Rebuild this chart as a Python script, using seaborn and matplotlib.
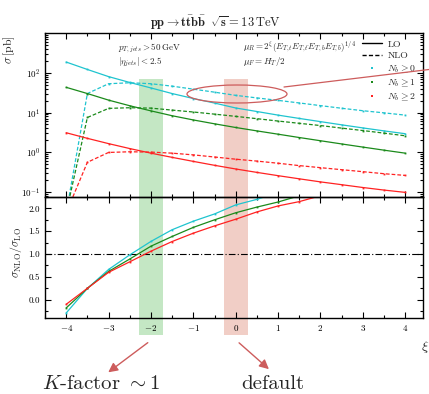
import numpy as np
import pandas as pd
import matplotlib
matplotlib.use("Agg")
import matplotlib.pyplot as plt
import matplotlib.ticker as mticker
import seaborn as sns
from matplotlib.patches import Ellipse, Rectangle, FancyArrowPatch
from matplotlib.lines import Line2D

# scale variation parameter xi (mu_R = 2^xi * mu_0)
xi = [-4.0, -3.5, -3.0, -2.5, -2.0, -1.5, -1.0, -0.5, 0.0,
      0.5, 1.0, 1.5, 2.0, 2.5, 3.0, 3.5, 4.0]

# cross sections in pb
lo_nb0 = [186, 121, 80, 57, 41.5, 30, 22.5, 17.3, 13.0, 10.6, 8.6, 7.1, 5.9, 4.9, 4.1, 3.45, 2.93]
nlo_nb0 = [-54, 30, 53, 56, 53, 46, 38.7, 32.5, 27.0, 23.3, 20.2, 17.4, 14.9, 12.8, 11.1, 9.8, 8.6]
lo_nb1 = [43, 30, 20.5, 14.8, 11.0, 8.3, 6.5, 5.2, 4.2, 3.45, 2.85, 2.35, 1.95, 1.62, 1.35, 1.13, 0.95]
nlo_nb1 = [-7.7, 7.5, 12.7, 13.2, 12.9, 11.5, 10.3, 9.1, 8.0, 7.0, 6.1, 5.35, 4.7, 4.05, 3.52, 3.03, 2.6]
lo_nb2 = [3.1, 2.24, 1.65, 1.24, 0.95, 0.745, 0.59, 0.47, 0.38, 0.312, 0.258, 0.215, 0.18, 0.153, 0.13, 0.112, 0.098]
nlo_nb2 = [-0.31, 0.56, 0.99, 1.03, 1.01, 0.95, 0.86, 0.76, 0.67, 0.6, 0.53, 0.462, 0.41, 0.365, 0.325, 0.289, 0.262]

sample_labels = [r"$N_b \geq 0$", r"$N_b \geq 1$", r"$N_b \geq 2$"]
sample_colors = ["#1fc4cf", "#1b8a1b", "#ff2222"]
band_centers = [-2.0, 0.0]

sns.set_theme(style="ticks")
plt.rcParams.update({
    "font.family": "serif",
    "font.serif": ["cmr10", "DejaVu Serif"],
    "mathtext.fontset": "cm",
    "axes.formatter.use_mathtext": True,
    "axes.linewidth": 1.0,
    "axes.edgecolor": "black",
    "axes.facecolor": "none",
})

# long-form tables
rows, ratio_rows = [], []
for lab, lo, nlo in zip(sample_labels, [lo_nb0, lo_nb1, lo_nb2], [nlo_nb0, nlo_nb1, nlo_nb2]):
    lo = np.asarray(lo, float)
    nlo = np.asarray(nlo, float)
    # negative NLO values cannot be shown on a log axis: send them below the frame
    nlo_log = np.where(nlo > 0, nlo, 0.03)
    for x, a, b in zip(xi, lo, nlo_log):
        rows.append({"xi": x, "sigma": a, "sample": lab, "order": "LO"})
        rows.append({"xi": x, "sigma": b, "sample": lab, "order": "NLO"})
    for x, r in zip(xi, nlo / lo):
        ratio_rows.append({"xi": x, "ratio": r, "sample": lab})
df = pd.DataFrame(rows)
df_ratio = pd.DataFrame(ratio_rows)
palette = dict(zip(sample_labels, sample_colors))

W, H = 429, 394
fig = plt.figure(figsize=(W / 100, H / 100), dpi=100)
ax1 = fig.add_axes([45 / W, 1 - 197 / H, 378 / W, 164 / H])
ax2 = fig.add_axes([45 / W, 1 - 318 / H, 378 / W, 121 / H], sharex=ax1)

# highlighted scale choices (span both panels and the tick labels)
xscale = 378 / 8.92
def xpix(v):
    return 45 + (v + 4.5) * xscale
for c, col in zip(band_centers, ["#c4e7c4", "#f1cec6"]):
    x0 = xpix(c - 0.28)
    fig.add_artist(Rectangle((x0 / W, 1 - 335 / H), (0.56 * xscale) / W, (335 - 79) / H,
                             transform=fig.transFigure, facecolor=col,
                             edgecolor="none", zorder=-1))

MS = 1.3
sns.lineplot(data=df, x="xi", y="sigma", hue="sample", style="order",
             palette=palette, dashes={"LO": "", "NLO": (3.0, 1.6)},
             markers={"LO": "s", "NLO": "s"}, markersize=MS, markeredgewidth=0,
             linewidth=0.9, estimator=None, sort=False, legend=False, ax=ax1)
ax1.set_yscale("log")
ax1.set_ylim(0.075, 1000)
ax1.yaxis.set_major_locator(mticker.FixedLocator([0.1, 1, 10, 100]))
ax1.yaxis.set_minor_locator(mticker.LogLocator(base=10, subs=np.arange(2, 10) * 1.0))
ax1.yaxis.set_minor_formatter(mticker.NullFormatter())
ax1.set_xlabel("")
ax1.set_ylabel(r"$\sigma\,[\mathrm{pb}]$", fontsize=8.5)
ax1.yaxis.set_label_coords(-0.074, 0.9)

sns.lineplot(data=df_ratio, x="xi", y="ratio", hue="sample", palette=palette,
             marker="s", markersize=MS, markeredgewidth=0, linewidth=0.9,
             estimator=None, sort=False, legend=False, ax=ax2)
ax2.axhline(1.0, color="black", lw=0.8, dashes=(6, 2, 1, 2), zorder=1)
ax2.set_ylim(-0.4, 2.25)
ax2.set_xlim(-4.5, 4.42)
ax2.xaxis.set_major_locator(mticker.MultipleLocator(1))
ax2.xaxis.set_minor_locator(mticker.MultipleLocator(0.5))
ax2.yaxis.set_major_locator(mticker.MultipleLocator(0.5))
ax2.yaxis.set_minor_locator(mticker.MultipleLocator(0.25))
ax2.yaxis.set_major_formatter(mticker.FormatStrFormatter("%.1f"))
ax2.set_xlabel("")
ax2.set_ylabel(r"$\sigma_{\mathrm{NLO}}/\sigma_{\mathrm{LO}}$", fontsize=8.5)
ax2.yaxis.set_label_coords(-0.056, 0.54)

for ax in (ax1, ax2):
    ax.tick_params(which="both", direction="in", top=True, right=True,
                   labelsize=6.5, colors="black", width=0.8)
    ax.tick_params(which="major", length=4)
    ax.tick_params(which="minor", length=2)
ax1.tick_params(labelbottom=False)

# legend: line style for order, colour for b-jet multiplicity
handles = [Line2D([], [], color="black", lw=1.0),
           Line2D([], [], color="black", lw=1.0, dashes=(3.0, 1.6))]
handles += [Line2D([], [], ls="none", marker="s", ms=2.0, mew=0, color=c) for c in sample_colors]
ax1.legend(handles, ["LO", "NLO"] + sample_labels, loc="upper right", frameon=False,
           fontsize=7, handlelength=2.0, handletextpad=0.6, labelspacing=0.3,
           borderaxespad=0.3)

# text annotations
fig.text(215 / W, 1 - 22 / H,
         r"$\mathbf{pp \to t\bar{t}b\bar{b}}\;\;\sqrt{\mathbf{s}} = \mathbf{13}\,\mathrm{TeV}$",
         ha="center", va="center", fontsize=9)
fig.text(118 / W, 1 - 48 / H, r"$p_{T,jets} > 50\,\mathrm{GeV}$", fontsize=6.5, va="center")
fig.text(118 / W, 1 - 62 / H, r"$|\eta_{jets}| < 2.5$", fontsize=6.5, va="center")
fig.text(243 / W, 1 - 47 / H,
         r"$\mu_R = 2^{\xi}\left(E_{T,t}E_{T,\bar{t}}E_{T,b}E_{T,\bar{b}}\right)^{1/4}$",
         fontsize=6.5, va="center")
fig.text(243 / W, 1 - 62 / H, r"$\mu_F = H_T/2$", fontsize=6.5, va="center")
fig.text(421 / W, 1 - 347 / H, r"$\xi$", fontsize=10, va="center", ha="left")

mark = "#cd5c5c"
fig.add_artist(Ellipse((237 / W, 1 - 94 / H), 100 / W, 18 / H, transform=fig.transFigure,
                       fill=False, edgecolor=mark, lw=0.9))
fig.add_artist(Line2D([284 / W, 1.0], [1 - 87 / H, 1 - 69.5 / H], transform=fig.transFigure,
                      color=mark, lw=0.9))
fig.add_artist(FancyArrowPatch((150 / W, 1 - 341 / H), (106 / W, 1 - 374 / H),
                               transform=fig.transFigure, arrowstyle="-|>",
                               mutation_scale=14, color=mark, lw=1.0))
fig.add_artist(FancyArrowPatch((237 / W, 1 - 341 / H), (271 / W, 1 - 371 / H),
                               transform=fig.transFigure, arrowstyle="-|>",
                               mutation_scale=14, color=mark, lw=1.0))
fig.text(101 / W, 1 - 384 / H, r"$K$-factor $\sim 1$", ha="center", va="center", fontsize=15)
fig.text(273 / W, 1 - 384 / H, "default", ha="center", va="center", fontsize=15)

fig.savefig("out.png", dpi=100)
